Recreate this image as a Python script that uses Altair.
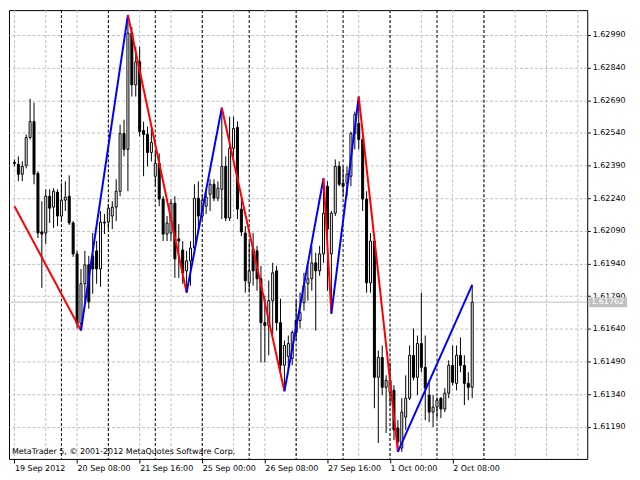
import altair as alt
import pandas as pd

# ---- data (EURUSD-like H2 candles, bar index 0 = 19 Sep 2012 00:00) ----
bar_open = [1.62405, 1.62396, 1.62350, 1.62391, 1.62519, 1.62592, 1.62354, 1.62085, 1.62080, 1.62249,
            1.62199, 1.62268, 1.62158, 1.62231, 1.62249, 1.62126, 1.61984, 1.61664, 1.61847, 1.61934,
            1.61975, 1.61998, 1.61915, 1.62130, 1.62130, 1.62158, 1.62199, 1.62272, 1.62537, 1.62464,
            1.62999, 1.62761, 1.62867, 1.62551, 1.62533, 1.62450, 1.62341, 1.62400, 1.62236, 1.62075,
            1.62080, 1.62217, 1.62053, 1.62002, 1.61906, 1.61952, 1.62011, 1.62240, 1.62158, 1.62203,
            1.62258, 1.62304, 1.62240, 1.62281, 1.62386, 1.62149, 1.62469, 1.62565, 1.62190, 1.62080,
            1.61851, 1.62007, 1.61998, 1.61870, 1.61668, 1.61655, 1.61769, 1.61906, 1.61668, 1.61472,
            1.61513, 1.61504, 1.61678, 1.61678, 1.61760, 1.61847, 1.61870, 1.61943, 1.61906, 1.61984,
            1.62295, 1.61984, 1.62171, 1.62386, 1.62309, 1.62309, 1.62341, 1.62537, 1.62583, 1.62510,
            1.62236, 1.61851, 1.62043, 1.61417, 1.61508, 1.61371, 1.61348, 1.61357, 1.61184, 1.61092,
            1.61234, 1.61321, 1.61518, 1.61417, 1.61572, 1.61463, 1.61335, 1.61257, 1.61280, 1.61321,
            1.61271, 1.61344, 1.61472, 1.61389, 1.61518, 1.61472, 1.61389, 1.61371]
bar_high = [1.62418, 1.62432, 1.62409, 1.62533, 1.62697, 1.62679, 1.62364, 1.62226, 1.62281, 1.62281,
            1.62286, 1.62281, 1.62309, 1.62318, 1.62345, 1.62135, 1.61998, 1.61915, 1.61998, 1.61975,
            1.62080, 1.62043, 1.62181, 1.62167, 1.62213, 1.62226, 1.62327, 1.62578, 1.62601, 1.63082,
            1.63027, 1.62935, 1.62935, 1.62592, 1.62569, 1.62569, 1.62455, 1.62446, 1.62249, 1.62158,
            1.62236, 1.62249, 1.62121, 1.62043, 1.61998, 1.62043, 1.62304, 1.62318, 1.62258, 1.62272,
            1.62327, 1.62327, 1.62318, 1.62656, 1.62432, 1.62615, 1.62615, 1.62592, 1.62249, 1.62112,
            1.62039, 1.62080, 1.62021, 1.61929, 1.61792, 1.61861, 1.61943, 1.61929, 1.61778, 1.61586,
            1.61609, 1.61632, 1.61769, 1.61806, 1.61897, 1.61929, 1.62021, 1.61989, 1.62021, 1.62332,
            1.62318, 1.62181, 1.62418, 1.62409, 1.62386, 1.62386, 1.62546, 1.62638, 1.62707, 1.62546,
            1.62272, 1.62080, 1.62066, 1.61540, 1.61563, 1.61426, 1.61485, 1.61380, 1.61220, 1.61321,
            1.61426, 1.61563, 1.61641, 1.61609, 1.61806, 1.61609, 1.61394, 1.61335, 1.61325, 1.61325,
            1.61367, 1.61495, 1.61563, 1.61563, 1.61600, 1.61518, 1.61440, 1.61842]
bar_low = [1.62386, 1.62318, 1.62318, 1.62377, 1.62510, 1.62304, 1.62057, 1.61828, 1.62030, 1.62126,
           1.62103, 1.62112, 1.62135, 1.62181, 1.62117, 1.61970, 1.61641, 1.61632, 1.61769, 1.61732,
           1.61801, 1.61847, 1.61833, 1.62075, 1.62098, 1.62098, 1.62135, 1.62249, 1.62432, 1.62272,
           1.62707, 1.62707, 1.62524, 1.62341, 1.62386, 1.62409, 1.62295, 1.62203, 1.62043, 1.62043,
           1.62043, 1.61874, 1.61874, 1.61847, 1.61806, 1.61838, 1.61998, 1.62089, 1.62144, 1.62167,
           1.62181, 1.62226, 1.62226, 1.62144, 1.62135, 1.62135, 1.62432, 1.62144, 1.62066, 1.61806,
           1.61806, 1.61838, 1.61815, 1.61485, 1.61485, 1.61518, 1.61609, 1.61632, 1.61440, 1.61353,
           1.61449, 1.61472, 1.61586, 1.61641, 1.61723, 1.61769, 1.61815, 1.61632, 1.61883, 1.61943,
           1.61815, 1.61710, 1.62158, 1.62295, 1.62249, 1.62249, 1.62295, 1.62464, 1.62464, 1.62181,
           1.61806, 1.61806, 1.61275, 1.61115, 1.61335, 1.61161, 1.61289, 1.61129, 1.61074, 1.61074,
           1.61175, 1.61312, 1.61403, 1.61335, 1.61440, 1.61220, 1.61211, 1.61188, 1.61229, 1.61229,
           1.61257, 1.61321, 1.61380, 1.61357, 1.61440, 1.61289, 1.61312, 1.61321]
bar_close = [1.62400, 1.62350, 1.62386, 1.62519, 1.62592, 1.62350, 1.62080, 1.62075, 1.62249, 1.62194,
             1.62272, 1.62158, 1.62231, 1.62245, 1.62126, 1.61984, 1.61664, 1.61847, 1.61934, 1.61764,
             1.61915, 1.61915, 1.62130, 1.62126, 1.62194, 1.62199, 1.62272, 1.62537, 1.62464, 1.62999,
             1.62761, 1.62867, 1.62546, 1.62533, 1.62450, 1.62496, 1.62400, 1.62236, 1.62075, 1.62126,
             1.62217, 1.61961, 1.62043, 1.61897, 1.61952, 1.62011, 1.62240, 1.62158, 1.62231, 1.62245,
             1.62304, 1.62240, 1.62286, 1.62386, 1.62149, 1.62469, 1.62560, 1.62190, 1.62085, 1.61861,
             1.61906, 1.61906, 1.61870, 1.61668, 1.61655, 1.61769, 1.61897, 1.61668, 1.61472, 1.61563,
             1.61572, 1.61623, 1.61623, 1.61714, 1.61838, 1.61870, 1.61943, 1.61906, 1.61984, 1.62171,
             1.62098, 1.62171, 1.62386, 1.62304, 1.62295, 1.62350, 1.62537, 1.62624, 1.62510, 1.62236,
             1.61851, 1.62043, 1.61417, 1.61508, 1.61371, 1.61403, 1.61403, 1.61175, 1.61120, 1.61257,
             1.61321, 1.61518, 1.61417, 1.61572, 1.61463, 1.61367, 1.61257, 1.61280, 1.61312, 1.61271,
             1.61344, 1.61472, 1.61394, 1.61518, 1.61472, 1.61389, 1.61371, 1.61762]

# ZigZag vertices (bar index, price)
zz_bar = [0, 17, 29, 44, 53, 69, 79, 81, 88, 98, 117]
zz_price = [1.62203, 1.61632, 1.63082, 1.61806, 1.62656, 1.61353, 1.62332, 1.61710, 1.62707, 1.61074, 1.61842]

# axes
price_ticks = [1.61190, 1.61340, 1.61490, 1.61640, 1.61790, 1.61940, 1.62090,
               1.62240, 1.62390, 1.62540, 1.62690, 1.62840, 1.62990]
time_label_bars = [0, 16, 32, 48, 64, 80, 96, 112]
time_labels = ["19 Sep 2012", "20 Sep 08:00", "21 Sep 16:00", "25 Sep 00:00",
               "26 Sep 08:00", "27 Sep 16:00", "1 Oct 00:00", "2 Oct 08:00"]
grid_bars = list(range(0, 145, 8))
day_separator_bars = [12, 24, 36, 48, 60, 72, 84, 96, 108, 120]
last_price = 1.61762
copyright_text = "MetaTrader 5, \u00a9 2001-2012 MetaQuotes Software Corp."

# ---- frames ----
candles = pd.DataFrame({"bar": list(range(len(bar_open))), "open": bar_open,
                        "high": bar_high, "low": bar_low, "close": bar_close})
candles["dir"] = ["up" if c >= o else "down" for o, c in zip(bar_open, bar_close)]

zz_rows = []
for k in range(len(zz_bar) - 1):
    d = "up" if zz_price[k + 1] > zz_price[k] else "down"
    zz_rows.append({"bar": zz_bar[k], "price": zz_price[k], "seg": k, "dir": d})
    zz_rows.append({"bar": zz_bar[k + 1], "price": zz_price[k + 1], "seg": k, "dir": d})
zz = pd.DataFrame(zz_rows)

W, H = 581, 451
FONT = "DejaVu Sans"
xscale = alt.Scale(domain=[-0.125, W / 4 - 0.125], nice=False, zero=False)
yscale = alt.Scale(domain=[1.610418, 1.631043], nice=False, zero=False)

label_js = "[" + ",".join("'" + s + "'" for s in time_labels) + "]"
xaxis = alt.Axis(values=time_label_bars, labelExpr=label_js + "[round(datum.value/16)]",
                 title=None, grid=False, domain=False, tickSize=4, tickColor="black",
                 labelAlign="left", labelPadding=2, labelFont=FONT, labelFontSize=8,
                 labelColor="black", labelFlush=False, labelOverlap=False, labelBound=False)
yaxis = alt.Axis(values=price_ticks, format=".5f", orient="right", title=None,
                 grid=True, gridColor="#c0c0c0", gridDash=[3, 2], domain=False,
                 tickSize=3, tickColor="black", labelPadding=2, labelFont=FONT,
                 labelFontSize=8, labelColor="black", labelOverlap=False)


def X(field):
    return alt.X(field, type="quantitative", scale=xscale, axis=xaxis)


def Y(field):
    return alt.Y(field, type="quantitative", scale=yscale, axis=yaxis)


vgrid = alt.Chart(pd.DataFrame({"bar": grid_bars})).mark_rule(
    color="#c0c0c0", strokeDash=[3, 2], strokeWidth=1).encode(x=X("bar"))
days = alt.Chart(pd.DataFrame({"bar": day_separator_bars})).mark_rule(
    color="black", strokeDash=[3, 2], strokeWidth=1).encode(x=X("bar"))
pline = alt.Chart(pd.DataFrame({"price": [last_price]})).mark_rule(
    color="#c0c0c0", strokeWidth=1).encode(y=Y("price"))
wicks = alt.Chart(candles).mark_rule(color="black", strokeWidth=1).encode(
    x=X("bar"), y=Y("low"), y2="high")
bodies = alt.Chart(candles).mark_bar(size=2, stroke="black", strokeWidth=1).encode(
    x=X("bar"), y=Y("open"), y2="close",
    fill=alt.Fill("dir:N", scale=alt.Scale(domain=["up", "down"], range=["white", "black"]),
                  legend=None))
zigzag = alt.Chart(zz).mark_line(strokeWidth=2).encode(
    x=X("bar"), y=Y("price"), detail="seg:N",
    color=alt.Color("dir:N", scale=alt.Scale(domain=["down", "up"], range=["#ff0000", "#0000ff"]),
                    legend=None))
pbox = alt.Chart(pd.DataFrame({"price": [last_price]})).mark_rule(
    color="#c0c0c0", strokeWidth=10).encode(
    x=alt.value(W + 2), x2=alt.value(W + 40), y=Y("price"))
ptext = alt.Chart(pd.DataFrame({"price": [last_price],
                                "t": [f"{last_price:.5f}"]})).mark_text(
    color="white", align="left", baseline="middle", font=FONT, fontSize=8).encode(
    x=alt.value(W + 4), y=Y("price"), text="t:N")
copy_t = alt.Chart(pd.DataFrame({"t": [copyright_text]})).mark_text(
    color="black", align="left", baseline="alphabetic", font=FONT, fontSize=8).encode(
    x=alt.value(3), y=alt.value(446.5), text="t:N")

chart = alt.layer(vgrid, days, pline, wicks, bodies, zigzag, pbox, ptext, copy_t).properties(
    width=W, height=H, padding=0, background="white"
).configure_view(stroke="black", strokeWidth=1)

chart.save("out.html", embed_options={"renderer": "svg", "actions": False})
